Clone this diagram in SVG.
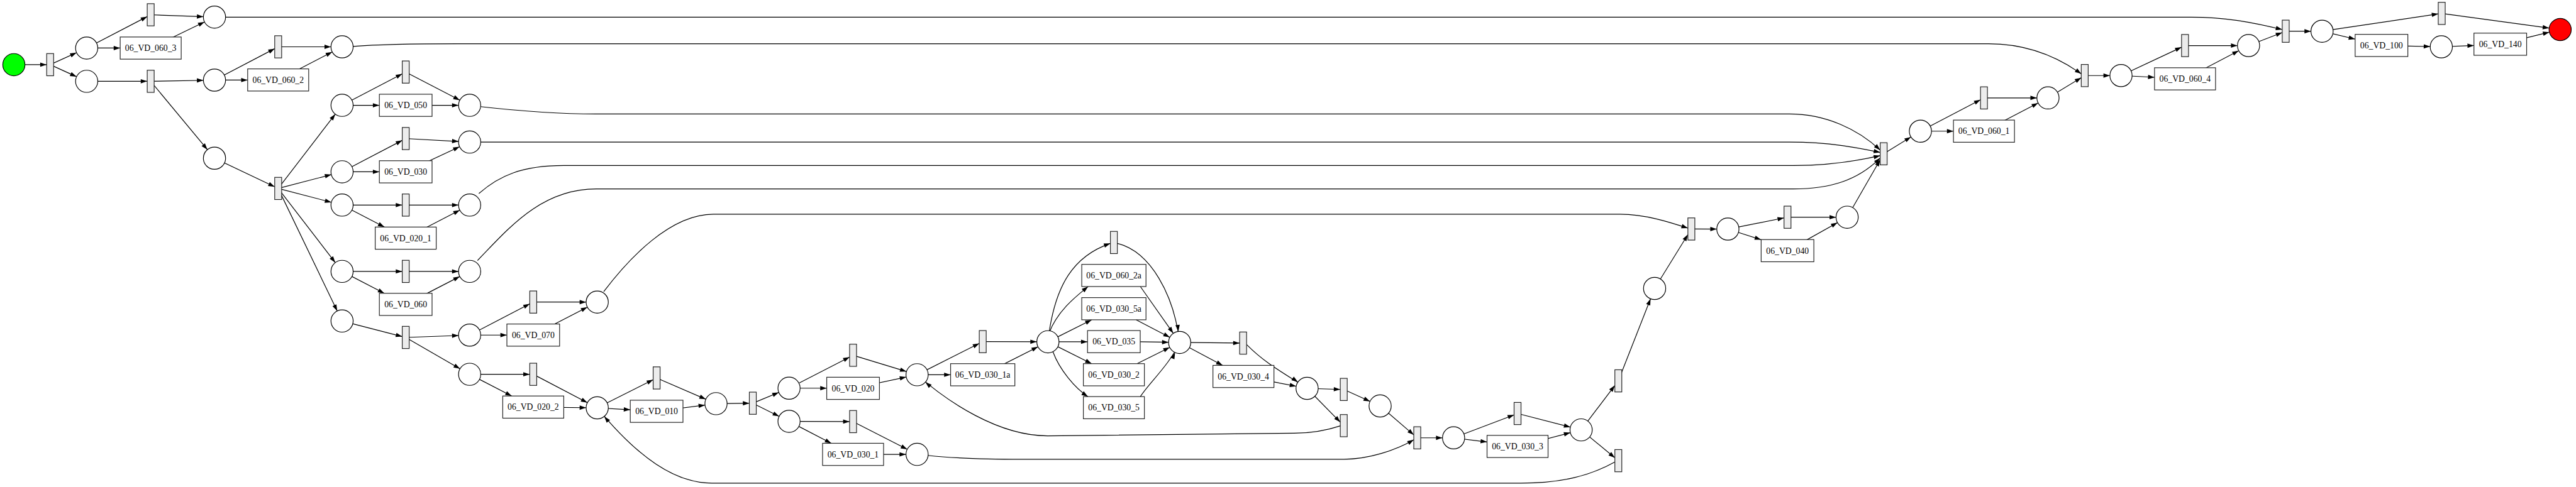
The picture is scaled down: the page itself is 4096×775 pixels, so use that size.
<svg xmlns="http://www.w3.org/2000/svg" width="4096" height="775" viewBox="0 0 4096 775">
<style>
.e{fill:none;stroke:#000;stroke-width:1.6}
.a0{marker-end:url(#a0)}
.ap{marker-end:url(#ap)}
.pl{fill:#fff;stroke:#000;stroke-width:1.6}
.tr{fill:#ececec;stroke:#222;stroke-width:1.6}
.bx{fill:#fff;stroke:#222;stroke-width:1.6}
.lb{font-family:"Liberation Serif","Times New Roman",serif;font-size:18.67px;text-anchor:middle;fill:#000}
</style>
<defs>
<marker id="a0" markerUnits="userSpaceOnUse" markerWidth="14" markerHeight="10" refX="14" refY="5" orient="auto" overflow="visible"><path d="M0,0.3 L14,5 L0,9.7 z" fill="#000"/></marker>
<marker id="ap" markerUnits="userSpaceOnUse" markerWidth="14" markerHeight="10" refX="38" refY="5" orient="auto" overflow="visible"><path d="M0,0.3 L14,5 L0,9.7 z" fill="#000"/></marker>
</defs>
<rect width="4096" height="775" fill="#fff"/>
<g transform="scale(0.735)">
<g id="connectors">
<path class="e a0" d="M30,140 L101,140"/>
<path class="e ap" d="M108.5,140 L187.5,104"/>
<path class="e ap" d="M108.5,140 L187.5,176"/>
<path class="e a0" d="M187.5,104 L318.5,35.9"/>
<path class="e a0" d="M187.5,104 L260,104"/>
<path class="e ap" d="M326,32 L464,37"/>
<path class="e ap" d="M326,104 L464,37"/>
<path class="e a0" d="M187.5,176 L318.5,176"/>
<path class="e ap" d="M326,176 L464,173.5"/>
<path class="e ap" d="M326,176 L464,342.5"/>
<path class="e a0" d="M464,173.5 L594.3,105.3"/>
<path class="e a0" d="M464,173.3 L535.8,173.3"/>
<path class="e ap" d="M601.8,101.4 L740,101.4"/>
<path class="e ap" d="M601.8,173.1 L740,101.4"/>
<path class="e a0" d="M464,342.5 L594.3,404.4"/>
<path class="e ap" d="M601.8,408 L740,228"/>
<path class="e ap" d="M601.8,408 L740,372"/>
<path class="e ap" d="M601.8,408 L740,444"/>
<path class="e ap" d="M601.8,408 L740,587.6"/>
<path class="e ap" d="M601.8,408 L740,695"/>
<path class="e a0" d="M740,228 L870.2,159.9"/>
<path class="e a0" d="M740,228 L820.7,228"/>
<path class="e ap" d="M877.7,156 L1016,228"/>
<path class="e ap" d="M877.7,228 L1016,228"/>
<path class="e a0" d="M740,372 L870.2,303.9"/>
<path class="e a0" d="M740,372 L820.7,372"/>
<path class="e ap" d="M877.7,300 L1016,307.6"/>
<path class="e ap" d="M877.7,372 L1016,307.6"/>
<path class="e a0" d="M740,444 L870.2,444"/>
<path class="e a0" d="M740,444 L831.6,491.6"/>
<path class="e ap" d="M877.7,444 L1016,444"/>
<path class="e ap" d="M877.7,515.6 L1016,444"/>
<path class="e a0" d="M740,587.6 L870.2,587.6"/>
<path class="e a0" d="M740,587.6 L831.4,635"/>
<path class="e ap" d="M877.7,587.6 L1016,587.6"/>
<path class="e ap" d="M877.7,659 L1016,587.6"/>
<path class="e a0" d="M740,695 L870.2,728.7"/>
<path class="e ap" d="M877.7,730.6 L1016,725.5"/>
<path class="e ap" d="M877.7,730.6 L1016,810.4"/>
<path class="e a0" d="M1016,725.5 L1146.1,657.9"/>
<path class="e a0" d="M1016,725.5 L1096.6,725.5"/>
<path class="e ap" d="M1153.6,654 L1292,654"/>
<path class="e ap" d="M1153.6,725.5 L1292,654"/>
<path class="e a0" d="M1016,810.4 L1146.1,810.4"/>
<path class="e a0" d="M1016,810.4 L1107.1,857.4"/>
<path class="e ap" d="M1153.6,810.4 L1292,883"/>
<path class="e ap" d="M1153.6,881.4 L1292,883"/>
<path class="e a0" d="M1292,883 L1413,822.1"/>
<path class="e a0" d="M1292,883 L1363.5,887.2"/>
<path class="e ap" d="M1420.5,818.3 L1549,874"/>
<path class="e ap" d="M1420.5,890.5 L1549,874"/>
<path class="e a0" d="M1549,874 L1621.1,873"/>
<path class="e ap" d="M1628.6,873 L1707,840.5"/>
<path class="e ap" d="M1628.6,873 L1707,912.2"/>
<path class="e a0" d="M1707,840.5 L1838,773.1"/>
<path class="e a0" d="M1707,840.5 L1788.5,840.5"/>
<path class="e ap" d="M1845.5,769.2 L1984,811.4"/>
<path class="e ap" d="M1845.5,840.8 L1984,811.4"/>
<path class="e a0" d="M1707,912.2 L1838,912.8"/>
<path class="e a0" d="M1707,912.2 L1798.4,959.8"/>
<path class="e ap" d="M1845.5,912.8 L1984,983.8"/>
<path class="e ap" d="M1845.5,983.8 L1984,983.8"/>
<path class="e a0" d="M1984,811.4 L2118.5,743.5"/>
<path class="e a0" d="M1984,811.4 L2056.5,811.4"/>
<path class="e ap" d="M2126,739.7 L2267,740"/>
<path class="e ap" d="M2126,811.4 L2267,740"/>
<path class="e a0" d="M2270,717 C2285,620 2320,555 2402.2,527"/>
<path class="e ap" d="M2417,527 C2490,545 2540,640 2552,741.4"/>
<path class="e a0" d="M2270,720 C2288,672 2330,640 2354,620.4"/>
<path class="e a0" d="M2267,740 L2361.6,692.4"/>
<path class="e a0" d="M2267,740 L2352.7,740"/>
<path class="e a0" d="M2267,740 L2361.6,787.4"/>
<path class="e a0" d="M2278,762 C2292,800 2325,840 2353.6,858.7"/>
<path class="e ap" d="M2467,620.4 L2552,741.4"/>
<path class="e ap" d="M2458,692.4 L2552,741.4"/>
<path class="e ap" d="M2466.7,740 L2552,741.4"/>
<path class="e ap" d="M2459.8,787.4 L2552,741.4"/>
<path class="e ap" d="M2467,858.7 C2485,830 2530,790 2552,741.4"/>
<path class="e a0" d="M2552,741.4 L2681.8,742.8"/>
<path class="e a0" d="M2552,741.4 L2645,791.1"/>
<path class="e ap" d="M2697,746 C2740,790 2790,815 2827.7,840.8"/>
<path class="e ap" d="M2756,827 L2827.7,840.8"/>
<path class="e a0" d="M2827.7,840.8 L2899.5,843.2"/>
<path class="e a0" d="M2827.7,840.8 L2899.5,914"/>
<path class="e ap" d="M2907,843.2 L2985.7,879"/>
<path class="e ap" d="M2900,922 C2870,932 2840,938 2800,938 L2266,943.6 C2160,943.6 2050,870 1984,811.4"/>
<path class="e a0" d="M2985.7,879 L3058.5,941.6"/>
<path class="e a0" d="M2007,986 C2070,993 2150,994.3 2210,994.3 L2907,994.3 C2960,994.3 3020,975 3058.5,952"/>
<path class="e ap" d="M3066,948 L3144.6,948"/>
<path class="e a0" d="M3144.6,948 L3275.5,898.2"/>
<path class="e a0" d="M3144.6,948 L3217,956.9"/>
<path class="e ap" d="M3283,895.3 L3420.5,930.8"/>
<path class="e ap" d="M3283,966.6 L3420.5,930.8"/>
<path class="e a0" d="M3420.5,930.8 L3493.5,834.5"/>
<path class="e a0" d="M3420.5,930.8 L3493.5,991.2"/>
<path class="e ap" d="M3501,824.6 L3579.5,624.5"/>
<path class="e ap" d="M3494,1000 C3440,1030 3380,1046 3290,1046 L1540,1046 C1460,1046 1380,990 1292,883"/>
<path class="e a0" d="M3579.5,624.5 L3651.5,507.9"/>
<path class="e a0" d="M1306,631.6 C1360,560 1450,464 1543,463.8 L3505,463.8 C3560,463.8 3615,482 3651.5,494"/>
<path class="e ap" d="M3659,495.8 L3738,496"/>
<path class="e a0" d="M3738,496 L3859.5,471.8"/>
<path class="e a0" d="M3738,496 L3810,519"/>
<path class="e ap" d="M3867,470.3 L3996,470.3"/>
<path class="e ap" d="M3867,542.7 L3996,470.3"/>
<path class="e a0" d="M3996,470.3 L4067.5,346"/>
<path class="e a0" d="M1040,231 C1120,240 1220,246.8 1290,246.8 L3871,246.8 C3950,246.8 4020,280 4067.5,325"/>
<path class="e a0" d="M1040,307.6 L3871,307.6 C3960,307.6 4020,320 4067.5,330"/>
<path class="e a0" d="M1036,419 C1080,380 1130,358.4 1220,358.4 L3880,358.4 C3960,358.4 4020,348 4067.5,337"/>
<path class="e a0" d="M1033,564 C1100,495 1170,409 1290,409 L3880,409 C3960,409 4020,390 4067.5,342"/>
<path class="e ap" d="M4075,333 L4154.5,284"/>
<path class="e a0" d="M4154.5,284 L4284.5,215.9"/>
<path class="e a0" d="M4154.5,284 L4226,284"/>
<path class="e ap" d="M4292,212 L4430.5,212"/>
<path class="e ap" d="M4292,284 L4430.5,212"/>
<path class="e a0" d="M4430.5,212 L4502.5,168.2"/>
<path class="e a0" d="M764,100.4 C820,96 900,94.7 990,94.7 L4302,94.7 C4370,94.7 4440,115 4502.5,160"/>
<path class="e ap" d="M4510,163.6 L4588.5,163.6"/>
<path class="e a0" d="M4588.5,163.6 L4719.5,102.2"/>
<path class="e a0" d="M4588.5,163.6 L4661,167.3"/>
<path class="e ap" d="M4727,98.7 L4864.4,98.7"/>
<path class="e ap" d="M4727,170.7 L4864.4,98.7"/>
<path class="e a0" d="M4864.4,98.7 L4937.3,70.5"/>
<path class="e a0" d="M488,37.2 L4740,37.2 C4820,37.2 4880,50 4937.3,64"/>
<path class="e ap" d="M4944.8,67.6 L5023.4,67.6"/>
<path class="e a0" d="M5023.4,67.6 L5274.8,30.1"/>
<path class="e a0" d="M5023.4,67.6 L5095,84.7"/>
<path class="e ap" d="M5152,98.4 L5281.4,101.4"/>
<path class="e a0" d="M5281.4,101.4 L5352,98.5"/>
<path class="e ap" d="M5282.3,29 L5538.5,64"/>
<path class="e ap" d="M5409,95.7 L5538.5,64"/>
</g>
<g id="p_start"><circle class="pl" cx="30" cy="140" r="24" style="fill:#00ff00"/></g>
<g id="p_a"><circle class="pl" cx="187.5" cy="104" r="24"/></g>
<g id="p_b"><circle class="pl" cx="187.5" cy="176" r="24"/></g>
<g id="p_c"><circle class="pl" cx="464" cy="37" r="24"/></g>
<g id="p_d"><circle class="pl" cx="464" cy="173.5" r="24"/></g>
<g id="p_e"><circle class="pl" cx="740" cy="101.4" r="24"/></g>
<g id="p_f"><circle class="pl" cx="464" cy="342.5" r="24"/></g>
<g id="p_g"><circle class="pl" cx="740" cy="228" r="24"/></g>
<g id="p_h"><circle class="pl" cx="1016" cy="228" r="24"/></g>
<g id="p_i"><circle class="pl" cx="740" cy="372" r="24"/></g>
<g id="p_j"><circle class="pl" cx="1016" cy="307.6" r="24"/></g>
<g id="p_k"><circle class="pl" cx="740" cy="444" r="24"/></g>
<g id="p_l"><circle class="pl" cx="1016" cy="444" r="24"/></g>
<g id="p_m"><circle class="pl" cx="740" cy="587.6" r="24"/></g>
<g id="p_n"><circle class="pl" cx="1016" cy="587.6" r="24"/></g>
<g id="p_o"><circle class="pl" cx="740" cy="695" r="24"/></g>
<g id="p_p"><circle class="pl" cx="1016" cy="725.5" r="24"/></g>
<g id="p_q"><circle class="pl" cx="1292" cy="654" r="24"/></g>
<g id="p_r"><circle class="pl" cx="1016" cy="810.4" r="24"/></g>
<g id="p_s"><circle class="pl" cx="1292" cy="883" r="24"/></g>
<g id="p_t"><circle class="pl" cx="1549" cy="874" r="24"/></g>
<g id="p_u"><circle class="pl" cx="1707" cy="840.5" r="24"/></g>
<g id="p_v"><circle class="pl" cx="1707" cy="912.2" r="24"/></g>
<g id="p_w"><circle class="pl" cx="1984" cy="811.4" r="24"/></g>
<g id="p_x"><circle class="pl" cx="1984" cy="983.8" r="24"/></g>
<g id="p_y"><circle class="pl" cx="2267" cy="740" r="24"/></g>
<g id="p_z"><circle class="pl" cx="2552" cy="741.4" r="24"/></g>
<g id="p_aa"><circle class="pl" cx="2827.7" cy="840.8" r="24"/></g>
<g id="p_bb"><circle class="pl" cx="2985.7" cy="879" r="24"/></g>
<g id="p_cc"><circle class="pl" cx="3144.6" cy="948" r="24"/></g>
<g id="p_dd"><circle class="pl" cx="3420.5" cy="930.8" r="24"/></g>
<g id="p_ee"><circle class="pl" cx="3579.5" cy="624.5" r="24"/></g>
<g id="p_gg"><circle class="pl" cx="3738" cy="496" r="24"/></g>
<g id="p_hh"><circle class="pl" cx="3996" cy="470.3" r="24"/></g>
<g id="p_ff"><circle class="pl" cx="4154.5" cy="284" r="24"/></g>
<g id="p_ii"><circle class="pl" cx="4430.5" cy="212" r="24"/></g>
<g id="p_jj"><circle class="pl" cx="4588.5" cy="163.6" r="24"/></g>
<g id="p_kk"><circle class="pl" cx="4864.4" cy="98.7" r="24"/></g>
<g id="p_ll"><circle class="pl" cx="5023.4" cy="67.6" r="24"/></g>
<g id="p_mm"><circle class="pl" cx="5281.4" cy="101.4" r="24"/></g>
<g id="p_end"><circle class="pl" cx="5538.5" cy="64" r="24" style="fill:#ff0000"/></g>
<g id="t1"><rect class="tr" x="101" y="116" width="15" height="48"/></g>
<g id="t2"><rect class="tr" x="318.5" y="8" width="15" height="48"/></g>
<g id="t3"><rect class="tr" x="318.5" y="152" width="15" height="48"/></g>
<g id="t4"><rect class="tr" x="594.3" y="77.4" width="15" height="48"/></g>
<g id="t5"><rect class="tr" x="594.3" y="384" width="15" height="48"/></g>
<g id="t6"><rect class="tr" x="870.2" y="132" width="15" height="48"/></g>
<g id="t7"><rect class="tr" x="870.2" y="276" width="15" height="48"/></g>
<g id="t8"><rect class="tr" x="870.2" y="420" width="15" height="48"/></g>
<g id="t9"><rect class="tr" x="870.2" y="563.6" width="15" height="48"/></g>
<g id="t10"><rect class="tr" x="870.2" y="706.6" width="15" height="48"/></g>
<g id="t11"><rect class="tr" x="1146.1" y="630" width="15" height="48"/></g>
<g id="t12"><rect class="tr" x="1146.1" y="786.4" width="15" height="48"/></g>
<g id="t13"><rect class="tr" x="1413" y="794.3" width="15" height="48"/></g>
<g id="t14"><rect class="tr" x="1621.1" y="849" width="15" height="48"/></g>
<g id="t15"><rect class="tr" x="1838" y="745.2" width="15" height="48"/></g>
<g id="t16"><rect class="tr" x="1838" y="888.8" width="15" height="48"/></g>
<g id="t17"><rect class="tr" x="2118.5" y="715.7" width="15" height="48"/></g>
<g id="t18"><rect class="tr" x="2402.2" y="501" width="15" height="48"/></g>
<g id="t19"><rect class="tr" x="2681.8" y="718.8" width="15" height="48"/></g>
<g id="t20"><rect class="tr" x="2899.5" y="819.2" width="15" height="48"/></g>
<g id="t21"><rect class="tr" x="2899.5" y="897.6" width="15" height="48"/></g>
<g id="t22"><rect class="tr" x="3058.5" y="924" width="15" height="48"/></g>
<g id="t23"><rect class="tr" x="3275.5" y="871.3" width="15" height="48"/></g>
<g id="t24"><rect class="tr" x="3493.5" y="800.6" width="15" height="48"/></g>
<g id="t25"><rect class="tr" x="3493.5" y="973.4" width="15" height="48"/></g>
<g id="t26"><rect class="tr" x="4067.5" y="309" width="15" height="48"/></g>
<g id="t27"><rect class="tr" x="3651.5" y="471.8" width="15" height="48"/></g>
<g id="t28"><rect class="tr" x="3859.5" y="446.3" width="15" height="48"/></g>
<g id="t29"><rect class="tr" x="4284.5" y="188" width="15" height="48"/></g>
<g id="t30"><rect class="tr" x="4502.5" y="139.6" width="15" height="48"/></g>
<g id="t31"><rect class="tr" x="4719.5" y="74.7" width="15" height="48"/></g>
<g id="t32"><rect class="tr" x="4937.3" y="43.6" width="15" height="48"/></g>
<g id="t33"><rect class="tr" x="5274.8" y="5" width="15" height="48"/></g>
<g id="b_060_3"><rect class="bx" x="260" y="80.1" width="132" height="48"/><text class="lb" x="326" y="110.4">06_VD_060_3</text></g>
<g id="b_060_2"><rect class="bx" x="535.8" y="149.1" width="132" height="48"/><text class="lb" x="601.8" y="179.4">06_VD_060_2</text></g>
<g id="b_050"><rect class="bx" x="820.7" y="204" width="114" height="48"/><text class="lb" x="877.7" y="234.3">06_VD_050</text></g>
<g id="b_030"><rect class="bx" x="820.7" y="348" width="114" height="48"/><text class="lb" x="877.7" y="378.3">06_VD_030</text></g>
<g id="b_020_1"><rect class="bx" x="811.7" y="491.6" width="132" height="48"/><text class="lb" x="877.7" y="521.9">06_VD_020_1</text></g>
<g id="b_060"><rect class="bx" x="820.7" y="635" width="114" height="48"/><text class="lb" x="877.7" y="665.3">06_VD_060</text></g>
<g id="b_070"><rect class="bx" x="1096.6" y="701.5" width="114" height="48"/><text class="lb" x="1153.6" y="731.8">06_VD_070</text></g>
<g id="b_020_2"><rect class="bx" x="1087.6" y="857.4" width="132" height="48"/><text class="lb" x="1153.6" y="887.7">06_VD_020_2</text></g>
<g id="b_010"><rect class="bx" x="1363.5" y="866.5" width="114" height="48"/><text class="lb" x="1420.5" y="896.8">06_VD_010</text></g>
<g id="b_020"><rect class="bx" x="1788.5" y="816.8" width="114" height="48"/><text class="lb" x="1845.5" y="847.1">06_VD_020</text></g>
<g id="b_030_1"><rect class="bx" x="1779.5" y="959.8" width="132" height="48"/><text class="lb" x="1845.5" y="990.1">06_VD_030_1</text></g>
<g id="b_030_1a"><rect class="bx" x="2056.5" y="787.4" width="139" height="48"/><text class="lb" x="2126" y="817.7">06_VD_030_1a</text></g>
<g id="b_060_2a"><rect class="bx" x="2340.2" y="572.4" width="139" height="48"/><text class="lb" x="2409.7" y="602.7">06_VD_060_2a</text></g>
<g id="b_030_5a"><rect class="bx" x="2340.2" y="644.4" width="139" height="48"/><text class="lb" x="2409.7" y="674.7">06_VD_030_5a</text></g>
<g id="b_035"><rect class="bx" x="2352.7" y="715.7" width="114" height="48"/><text class="lb" x="2409.7" y="746">06_VD_035</text></g>
<g id="b_030_2"><rect class="bx" x="2343.7" y="787.4" width="132" height="48"/><text class="lb" x="2409.7" y="817.7">06_VD_030_2</text></g>
<g id="b_030_5"><rect class="bx" x="2343.7" y="858.7" width="132" height="48"/><text class="lb" x="2409.7" y="889">06_VD_030_5</text></g>
<g id="b_030_4"><rect class="bx" x="2624" y="791.1" width="132" height="48"/><text class="lb" x="2690" y="821.4">06_VD_030_4</text></g>
<g id="b_030_3"><rect class="bx" x="3217" y="942.6" width="132" height="48"/><text class="lb" x="3283" y="972.9">06_VD_030_3</text></g>
<g id="b_040"><rect class="bx" x="3810" y="518.7" width="114" height="48"/><text class="lb" x="3867" y="549">06_VD_040</text></g>
<g id="b_060_1"><rect class="bx" x="4226" y="260" width="132" height="48"/><text class="lb" x="4292" y="290.3">06_VD_060_1</text></g>
<g id="b_060_4"><rect class="bx" x="4661" y="146.7" width="132" height="48"/><text class="lb" x="4727" y="177">06_VD_060_4</text></g>
<g id="b_100"><rect class="bx" x="5095" y="74.4" width="114" height="48"/><text class="lb" x="5152" y="104.7">06_VD_100</text></g>
<g id="b_140"><rect class="bx" x="5352" y="71.7" width="114" height="48"/><text class="lb" x="5409" y="102">06_VD_140</text></g>
</g>
</svg>
